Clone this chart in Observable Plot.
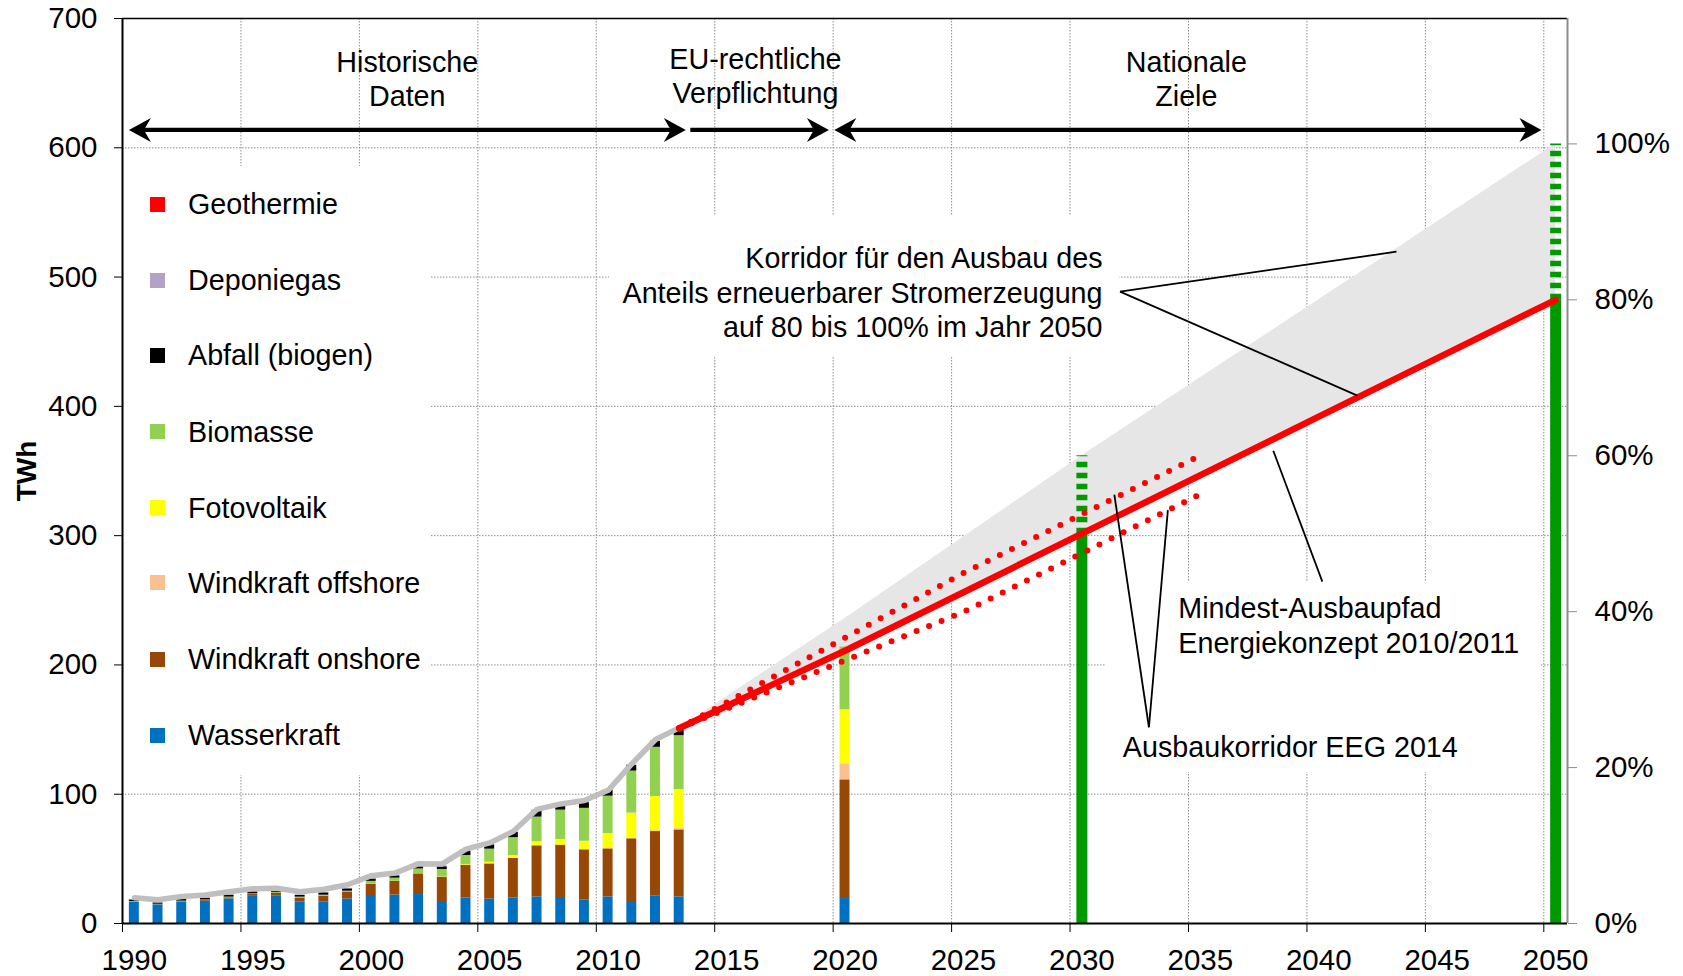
<!DOCTYPE html>
<html>
<head>
<meta charset="utf-8">
<script src="https://cdn.jsdelivr.net/npm/d3@7"></script>
<script src="https://cdn.jsdelivr.net/npm/@observablehq/plot@0.6"></script>
<style>
  body { margin: 0; background: #fff; font-family: "Liberation Sans", Arial, sans-serif; }
  #wrap { position: relative; width: 1683px; height: 976px; }
  #legend { position: absolute; left: 124px; top: 166px; width: 306px; height: 609px; background: #fff; }
  .sw { position: absolute; width: 15px; height: 15px; }
  .lt { position: absolute; font-size: 28.7px; line-height: 30px; color: #000; white-space: nowrap; }
</style>
</head>
<body>
<div id="wrap"></div>
<script>
// ---------- data ----------
const sources = ["Wasserkraft", "Windkraft onshore", "Windkraft offshore", "Fotovoltaik",
                 "Biomasse", "Abfall (biogen)", "Deponiegas", "Geothermie"];
const colors = ["#0070C0", "#974706", "#FAC090", "#FFFF00", "#92D050", "#000000", "#B3A2C7", "#FF0000"];

const barYears = [1990, 1991, 1992, 1993, 1994, 1995, 1996, 1997, 1998, 1999, 2000, 2001,
                  2002, 2003, 2004, 2005, 2006, 2007, 2008, 2009, 2010, 2011, 2012, 2013, 2020];
const wasserkraft = [16.6, 14.4, 16.6, 17.2, 19.0, 21.0, 21.1, 16.5, 16.5, 19.0, 20.9, 22.0,
                     22.4, 17.0, 19.6, 18.8, 19.6, 20.6, 20.1, 18.3, 20.6, 17.0, 21.1, 20.6, 19.3];
const windOnshore = [0.1, 0.2, 0.3, 0.6, 0.9, 1.5, 2.2, 3.2, 4.6, 5.0, 9.5, 10.6,
                     16.0, 18.8, 25.5, 27.3, 30.7, 39.5, 40.5, 38.7, 37.1, 48.5, 50.0, 51.8, 91.8];
const windOffshore = [0, 0, 0, 0, 0, 0, 0, 0, 0, 0, 0, 0,
                      0, 0, 0, 0, 0, 0, 0, 0, 0.2, 0.6, 0.7, 1.0, 12.4];
const fotovoltaik = [0, 0, 0, 0, 0, 0, 0, 0, 0, 0, 0.1, 0.1,
                     0.2, 0.3, 0.6, 1.3, 2.2, 3.1, 4.4, 6.6, 11.7, 19.3, 26.4, 30.2, 41.8];
const biomasse = [0.3, 0.3, 0.4, 0.4, 0.5, 0.5, 0.6, 0.7, 0.8, 1.0, 2.1, 2.4,
                  3.6, 5.7, 6.9, 10.1, 13.9, 19.1, 22.7, 25.5, 28.9, 32.5, 38.1, 41.7, 48.5];
const abfall = [1.2, 1.0, 1.3, 1.4, 1.5, 1.5, 1.3, 1.3, 1.8, 1.8, 1.8, 1.8,
                2.0, 2.1, 3.1, 3.4, 4.1, 5.0, 4.6, 4.4, 4.4, 4.4, 4.6, 4.4, 0];
const deponiegas = [0.2, 0.2, 0.2, 0.2, 0.3, 0.5, 0.5, 0.5, 0.5, 0.5, 0.5, 0.5,
                    0.6, 0.6, 0.5, 0.5, 0.5, 0.5, 0.5, 0.5, 0.5, 0.4, 0.4, 0.4, 0];
const geothermie = [0, 0, 0, 0, 0, 0, 0, 0, 0, 0, 0, 0,
                    0, 0, 0, 0, 0, 0, 0, 0.02, 0.03, 0.02, 0.03, 0.08, 0];

const totalYears = [1990, 1991, 1992, 1993, 1994, 1995, 1996, 1997, 1998, 1999, 2000, 2001,
                    2002, 2003, 2004, 2005, 2006, 2007, 2008, 2009, 2010, 2011, 2012, 2013];
const totalTWh = [19.9, 18.4, 20.9, 22.0, 24.5, 26.8, 27.3, 24.5, 26.5, 30.0, 37.0, 39.0,
                  46.3, 46.1, 57.5, 62.3, 71.3, 88.3, 92.5, 95.1, 103.0, 123.4, 142.3, 151.3];

// Energiekonzept path and corridor (TWh)
const pathYears = [2013, 2020, 2030, 2040, 2050];
const minPath = [151.0, 211.0, 301.5, 392.0, 482.4];
const corridorUpper = [151.0, 236.0, 361.8, 482.4, 603.0];
// EEG 2014 corridor (TWh)
const eegYears = [2013, 2025, 2035];
const eegLow = [151.0, 241.0, 332.0];
const eegHigh = [151.0, 271.0, 362.0];
// Targets 2030 / 2050 (TWh)
const targetYears = [2030, 2050];
const targetSolid = [301.5, 482.4];
const targetTop = [361.8, 603.0];

const PCT = 6.03; // TWh per percentage point
const pctTicks = [0, 20, 40, 60, 80, 100];
const yTicks = [0, 100, 200, 300, 400, 500, 600, 700];
const xTicks = [1990, 1995, 2000, 2005, 2010, 2015, 2020, 2025, 2030, 2035, 2040, 2045, 2050];

// Annotations
const arrowLevel = 613.8;
const arrowFrom = [1990.27, 2013.97, 2020.05];
const arrowTo = [2013.78, 2019.82, 2049.9];
const arrowHeadStart = [true, false, true];
const headTexts = ["Historische\nDaten", "EU-rechtliche\nVerpflichtung", "Nationale\nZiele"];
const headX = [2002.02, 2016.72, 2034.91];
const headY = [654.0, 656.2, 654.0];

const noteEndTexts = ["Korridor für den Ausbau des\nAnteils erneuerbarer Stromerzeugung\nauf 80 bis 100% im Jahr 2050"];
const noteEndX = [2031.37];
const noteEndY = [488.6];
const noteStartTexts = ["Mindest-Ausbaupfad\nEnergiekonzept 2010/2011", "Ausbaukorridor EEG 2014"];
const noteStartX = [2034.57, 2032.23];
const noteStartY = [231.2, 137.4];

const leaderX1 = [2032.11, 2032.11, 2040.65, 2033.33, 2033.33];
const leaderY1 = [488.8, 488.8, 264.4, 151.8, 151.8];
const leaderX2 = [2043.78, 2042.13, 2038.58, 2031.87, 2034.13];
const leaderY2 = [519.6, 408.3, 365.7, 331.7, 319.7];

const boxX1 = [2010.56, 2031.5];
const boxX2 = [2032.1, 2049.9];
const boxY1 = [438.8, 116.8];
const boxY2 = [547.0, 264.5];

// ---------- derived tables ----------
const seriesList = [wasserkraft, windOnshore, windOffshore, fotovoltaik, biomasse, abfall, deponiegas, geothermie];
const stackRows = [];
barYears.forEach((yr, i) => {
  let acc = 0;
  sources.forEach((s, k) => {
    const v = seriesList[k][i];
    if (v > 0) { stackRows.push({year: yr, source: s, y1: acc, y2: acc + v}); acc += v; }
  });
});
const totals = totalYears.map((y, i) => ({x: y + 0.5, y: totalTWh[i]}));
const corridor = pathYears.map((y, i) => ({x: y + 0.5, lo: minPath[i], hi: corridorUpper[i]}));
const eegL = eegYears.map((y, i) => ({x: y + 0.5, y: eegLow[i]}));
const eegH = eegYears.map((y, i) => ({x: y + 0.5, y: eegHigh[i]}));
const targets = targetYears.map((y, i) => ({x: y + 0.5, solid: targetSolid[i], top: targetTop[i]}));
const boxes = boxX1.map((x, i) => ({x1: x, x2: boxX2[i], y1: boxY1[i], y2: boxY2[i]}));
const leaders = leaderX1.map((x, i) => ({x1: x, y1: leaderY1[i], x2: leaderX2[i], y2: leaderY2[i]}));

const shafts = [], heads = [];
arrowFrom.forEach((a, i) => {
  const b = arrowTo[i];
  shafts.push({x1: arrowHeadStart[i] ? a + 0.4 : a, x2: b - 0.4});
  heads.push({x: b, rot: 0});
  if (arrowHeadStart[i]) heads.push({x: a, rot: 180});
});
const arrowSymbol = {
  draw(ctx) {
    ctx.moveTo(0, 0); ctx.lineTo(-22, -12); ctx.lineTo(-15, 0); ctx.lineTo(-22, 12); ctx.closePath();
  }
};

const FONT = '"Liberation Sans", Arial, sans-serif';
const TXT = 28.7;
const BW = 0.21;
const grid = {stroke: "#8c8c8c", strokeOpacity: 1, strokeDasharray: "1.5,1.5", strokeWidth: 1};

const chart = Plot.plot({
  width: 1683, height: 976,
  marginLeft: 122, marginRight: 116, marginTop: 18, marginBottom: 53,
  style: {fontFamily: FONT, background: "white", overflow: "visible"},
  x: {domain: [1990, 2051]},
  y: {domain: [0, 700]},
  color: {domain: sources, range: colors},
  marks: [
    Plot.gridX({...grid, ticks: xTicks.slice(1)}),
    Plot.gridY({...grid, ticks: yTicks.slice(1, -1)}),
    Plot.rect(boxes, {x1: "x1", x2: "x2", y1: "y1", y2: "y2", fill: "white"}),
    Plot.areaY(corridor, {x: "x", y1: "lo", y2: "hi", fill: "#e6e6e6"}),
    Plot.rect(stackRows, {x1: d => d.year + 0.5 - BW, x2: d => d.year + 0.5 + BW, y1: "y1", y2: "y2", fill: "source"}),
    Plot.line(totals, {x: "x", y: "y", stroke: "#bfbfbf", strokeWidth: 5.5}),
    Plot.ruleX(targets, {x: "x", y1: 0, y2: "solid", stroke: "#009900", strokeWidth: 11}),
    Plot.ruleX(targets, {x: "x", y1: "solid", y2: "top", stroke: "#009900", strokeWidth: 11, strokeDasharray: "5.5,5.5"}),
    Plot.line(eegH, {x: "x", y: "y", stroke: "#ff0000", strokeWidth: 6, strokeDasharray: "0,13.5", strokeLinecap: "round"}),
    Plot.line(eegL, {x: "x", y: "y", stroke: "#ff0000", strokeWidth: 6, strokeDasharray: "0,13.5", strokeLinecap: "round"}),
    Plot.line(corridor, {x: "x", y: "lo", stroke: "#ff0000", strokeWidth: 6.5, strokeLinecap: "round"}),
    Plot.link(leaders, {x1: "x1", y1: "y1", x2: "x2", y2: "y2", stroke: "black", strokeWidth: 1.8}),
    Plot.link(shafts, {x1: "x1", x2: "x2", y1: arrowLevel, y2: arrowLevel, stroke: "black", strokeWidth: 4.2}),
    Plot.dot(heads, {x: "x", y: arrowLevel, symbol: arrowSymbol, rotate: "rot", fill: "black", stroke: "none", r: 5}),
    Plot.text(headTexts, {x: (d, i) => headX[i], y: (d, i) => headY[i], text: d => d, fontSize: TXT, lineHeight: 1.185, fill: "black"}),
    Plot.text(noteEndTexts, {x: (d, i) => noteEndX[i], y: (d, i) => noteEndY[i], text: d => d, textAnchor: "end", fontSize: TXT, lineHeight: 1.195, fill: "black"}),
    Plot.text(noteStartTexts, {x: (d, i) => noteStartX[i], y: (d, i) => noteStartY[i], text: d => d, textAnchor: "start", fontSize: TXT, lineHeight: 1.195, fill: "black"}),
    // axes
    Plot.ruleY([700], {stroke: "black", strokeWidth: 1.3}),
    Plot.ruleX([2051], {stroke: "#8c8c8c", strokeWidth: 2}),
    Plot.ruleX([1990], {stroke: "black", strokeWidth: 2}),
    Plot.ruleY([0], {stroke: "black", strokeWidth: 2.2}),
    Plot.axisY({ticks: yTicks, tickSize: 8, tickPadding: 17, fontSize: 29.5, label: null, tickFormat: d => String(d)}),
    Plot.axisY({anchor: "right", ticks: pctTicks.map(p => p * PCT), tickSize: 9, tickPadding: 18, fontSize: 29.5,
                label: null, stroke: "#8c8c8c", tickFormat: d => Math.round(d / PCT) + "%"}),
    // x ticks on the year boundary, labels centred on the year (category style)
    Plot.axisX({ticks: xTicks, tickSize: 9, label: null, tickFormat: () => ""}),
    Plot.axisX({ticks: xTicks.map(d => d + 0.5), tickSize: 0, tickPadding: 26, fontSize: 29.5, label: null,
                tickFormat: d => String(Math.round(d - 0.5))}),
    Plot.text(["TWh"], {frameAnchor: "left", dx: -95, rotate: -90, textAnchor: "middle", fontSize: 28, fontWeight: "bold", fill: "black"})
  ]
});

const wrap = document.getElementById("wrap");
wrap.appendChild(chart);

// legend (top to bottom: reverse of stacking order)
const legend = document.createElement("div");
legend.id = "legend";
const rowCenters = [204, 280, 355, 431.5, 507.7, 582.8, 659, 735];
const legendOrder = sources.slice().reverse();
legendOrder.forEach((s, i) => {
  const c = colors[sources.indexOf(s)];
  const top = rowCenters[i] - 166;
  const sw = document.createElement("div");
  sw.className = "sw";
  sw.style.left = (157.8 - 124 - 7.5) + "px";
  sw.style.top = (top - 7.5) + "px";
  sw.style.background = c;
  const t = document.createElement("div");
  t.className = "lt";
  t.style.left = (188 - 124) + "px";
  t.style.top = (top - 15) + "px";
  t.textContent = s;
  legend.appendChild(sw);
  legend.appendChild(t);
});
wrap.appendChild(legend);
</script>
</body>
</html>
